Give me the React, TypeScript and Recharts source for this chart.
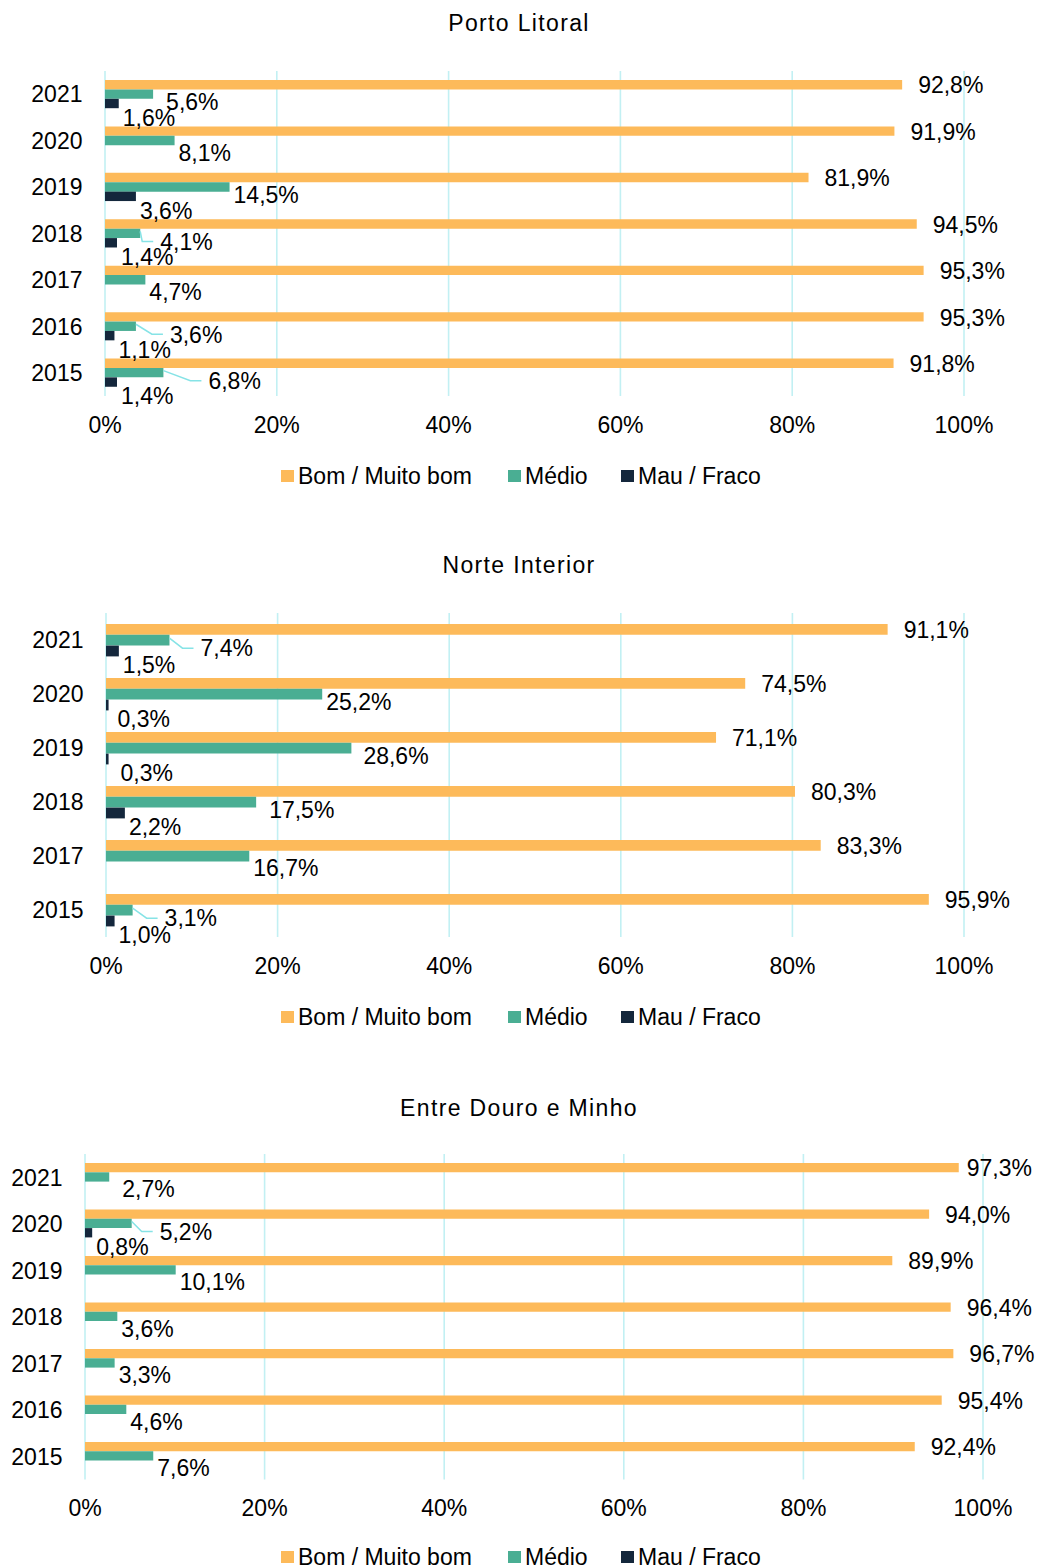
import React from 'react';
import { BarChart, Bar, XAxis, YAxis, CartesianGrid, LabelList, Legend } from 'recharts';

const FONT = '"Liberation Sans", Arial, Helvetica, sans-serif';

// ---------- data ----------
const seriesNames = ['Bom / Muito bom', 'Médio', 'Mau / Fraco'];
const seriesKeys = ['bom', 'medio', 'mau'];
const seriesColors = ['#FDBA5A', '#4AAE93', '#14273C'];
const xTicks = [0, 20, 40, 60, 80, 100];

const portoYears = ['2021', '2020', '2019', '2018', '2017', '2016', '2015'];
const portoBom = [92.8, 91.9, 81.9, 94.5, 95.3, 95.3, 91.8];
const portoMedio = [5.6, 8.1, 14.5, 4.1, 4.7, 3.6, 6.8];
const portoMau = [1.6, null, 3.6, 1.4, null, 1.1, 1.4];

const norteYears = ['2021', '2020', '2019', '2018', '2017', '2015'];
const norteBom = [91.1, 74.5, 71.1, 80.3, 83.3, 95.9];
const norteMedio = [7.4, 25.2, 28.6, 17.5, 16.7, 3.1];
const norteMau = [1.5, 0.3, 0.3, 2.2, null, 1.0];

const entreYears = ['2021', '2020', '2019', '2018', '2017', '2016', '2015'];
const entreBom = [97.3, 94.0, 89.9, 96.4, 96.7, 95.4, 92.4];
const entreMedio = [2.7, 5.2, 10.1, 3.6, 3.3, 4.6, 7.6];
const entreMau = [null, 0.8, null, null, null, null, null];

// ---------- label styling (gap between bar end and label, px) ----------
const defaultGap: Record<string, number> = { bom: 16, medio: 4, mau: 4 };
const labelGap: Record<string, number> = {
  'porto-2021-medio': 13,
  'porto-2018-medio': 20,
  'porto-2016-medio': 34,
  'porto-2015-medio': 45,
  'porto-2015-mau': 13,
  'norte-2021-medio': 31,
  'norte-2019-medio': 12,
  'norte-2018-medio': 13,
  'norte-2015-medio': 32,
  'norte-2020-mau': 9,
  'norte-2019-mau': 12,
  'entre-2021-medio': 13,
  'entre-2020-medio': 28,
  'entre-2021-bom': 8,
};

const fmt = (v: number) => v.toFixed(1).replace('.', ',') + '%';

function buildRows(years: string[], bom: (number | null)[], medio: (number | null)[], mau: (number | null)[]) {
  return years.map((y, i) => ({ year: y, bom: bom[i], medio: medio[i], mau: mau[i] }));
}

type Panel = {
  id: string;
  title: string;
  titleY: number;
  top: number;
  height: number;
  plotTop: number;
  x0: number;
  x100: number;
  xAxisH: number;
  barSize: number;
  rows: any[];
};

const panels: Panel[] = [
  {
    id: 'porto', title: 'Porto Litoral', titleY: 23.3, top: 0, height: 491, plotTop: 71,
    x0: 105, x100: 964, xAxisH: 65, barSize: 9.4,
    rows: buildRows(portoYears, portoBom, portoMedio, portoMau),
  },
  {
    id: 'norte', title: 'Norte Interior', titleY: 565, top: 540, height: 492, plotTop: 73,
    x0: 106, x100: 964, xAxisH: 65, barSize: 10.8,
    rows: buildRows(norteYears, norteBom, norteMedio, norteMau),
  },
  {
    id: 'entre', title: 'Entre Douro e Minho', titleY: 1107.5, top: 1080, height: 492, plotTop: 74,
    x0: 85, x100: 983, xAxisH: 62.5, barSize: 9.3,
    rows: buildRows(entreYears, entreBom, entreMedio, entreMau),
  },
];

function makeLabel(panelId: string, kind: string, rows: any[]) {
  return (props: any) => {
    const { value, index } = props;
    if (value == null || value === 0) return null;
    const vb = props.viewBox || {};
    const x = Number(props.x ?? vb.x);
    const y = Number(props.y ?? vb.y);
    const w = Number(props.width ?? vb.width);
    const h = Number(props.height ?? vb.height);
    const end = x + w;
    const cy = y + h / 2;
    const row = rows[index] || {};
    const key = `${panelId}-${row.year}-${kind}`;
    const gap = labelGap[key] ?? defaultGap[kind];
    const hasMau = row.mau != null && row.mau !== 0;
    const dy = kind === 'bom' ? 0.5 : kind === 'medio' ? (hasMau ? 8 : 12) : 14;
    const lx = end + gap;
    const ly = cy + dy;
    const leader =
      kind === 'medio' && gap >= 20 ? (
        <polyline
          points={`${end},${cy - 2} ${Math.max(end + 2, lx - 18)},${ly} ${lx - 7},${ly}`}
          fill="none"
          stroke="#86E3E6"
          strokeWidth={1.5}
        />
      ) : null;
    return (
      <g>
        {leader}
        <text x={lx} y={ly} dy="0.36em" textAnchor="start" fontFamily={FONT} fontSize={23} fill="#000">
          {fmt(Number(value))}
        </text>
      </g>
    );
  };
}

const legendWidths = [227, 113, 170];

const renderLegend = () => (
  <div
    style={{
      height: 30,
      display: 'flex',
      alignItems: 'center',
      paddingLeft: 281,
      fontFamily: FONT,
      fontSize: 23,
      color: '#000',
      boxSizing: 'border-box',
      whiteSpace: 'nowrap',
    }}
  >
    {seriesNames.map((n, i) => (
      <div key={n} style={{ display: 'flex', alignItems: 'center', width: legendWidths[i] }}>
        <span
          style={{
            display: 'inline-block',
            width: 12.5,
            height: 12.5,
            background: seriesColors[i],
            marginRight: 4.5,
          }}
        />
        <span style={{ lineHeight: '30px' }}>{n}</span>
      </div>
    ))}
  </div>
);

function PanelChart({ p }: { p: Panel }) {
  const XTick = (props: any) => (
    <text
      x={props.x}
      y={Number(props.y) + 36.5}
      textAnchor="middle"
      fontFamily={FONT}
      fontSize={23}
      fill="#000"
    >
      {props.payload.value + '%'}
    </text>
  );
  const YTick = (props: any) => (
    <text
      x={Number(props.x) - 22.5}
      y={props.y}
      dy="0.36em"
      textAnchor="end"
      fontFamily={FONT}
      fontSize={23}
      fill="#000"
    >
      {props.payload.value}
    </text>
  );
  return (
    <div style={{ position: 'absolute', left: 0, top: p.top, width: 1038, height: p.height }}>
      <div
        style={{
          position: 'absolute',
          left: 0,
          width: 1038,
          top: p.titleY - p.top - 15,
          height: 30,
          lineHeight: '30px',
          textAlign: 'center',
          fontFamily: FONT,
          fontSize: 23,
          letterSpacing: '1.35px',
          color: '#000',
          zIndex: 2,
        }}
      >
        {p.title}
      </div>
      <BarChart
        width={1038}
        height={p.height}
        data={p.rows}
        layout="vertical"
        barGap={0}
        margin={{ top: p.plotTop, right: 1038 - p.x100, bottom: 0, left: 0 }}
      >
        <CartesianGrid horizontal={false} stroke="#C2F0F3" strokeWidth={1.6} />
        <XAxis
          type="number"
          domain={[0, 100]}
          ticks={xTicks}
          interval={0}
          axisLine={false}
          tickLine={false}
          tickSize={0}
          tickMargin={0}
          height={p.xAxisH}
          tick={XTick}
        />
        <YAxis
          type="category"
          dataKey="year"
          width={p.x0}
          interval={0}
          axisLine={false}
          tickLine={false}
          tickSize={0}
          tickMargin={0}
          tick={YTick}
        />
        {seriesKeys.map((k, i) => (
          <Bar
            key={k}
            dataKey={k}
            name={seriesNames[i]}
            fill={seriesColors[i]}
            barSize={p.barSize}
            isAnimationActive={false}
          >
            <LabelList dataKey={k} content={makeLabel(p.id, k, p.rows)} />
          </Bar>
        ))}
        <Legend
          content={renderLegend}
          verticalAlign="bottom"
          wrapperStyle={{ left: 0, width: 1038, bottom: 0, height: 30 }}
        />
      </BarChart>
    </div>
  );
}

export default function App() {
  return (
    <div
      style={{
        position: 'absolute',
        left: 0,
        top: 0,
        width: 1038,
        height: 1568,
        overflow: 'hidden',
        background: '#fff',
      }}
    >
      {panels.map((p) => (
        <PanelChart key={p.id} p={p} />
      ))}
    </div>
  );
}
